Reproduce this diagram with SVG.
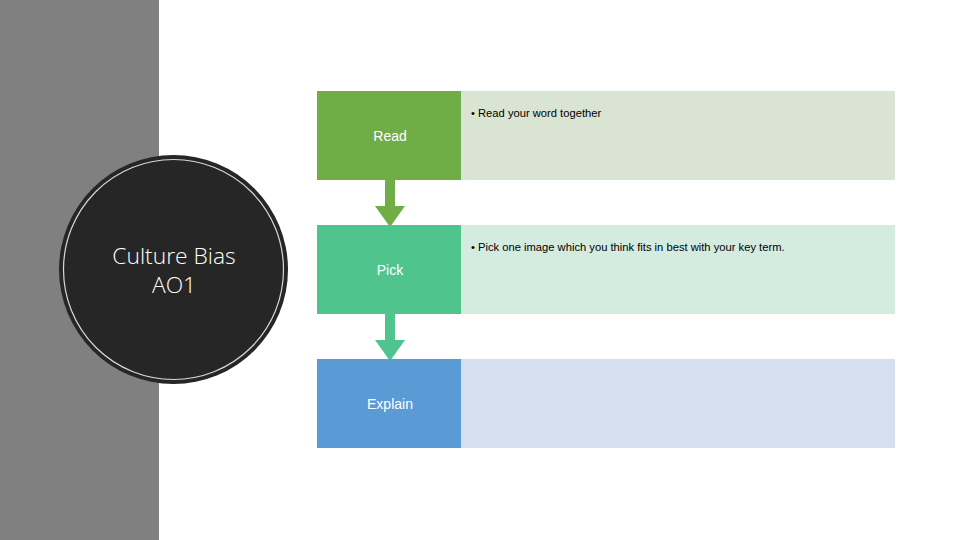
<svg xmlns="http://www.w3.org/2000/svg" width="960" height="540" viewBox="0 0 960 540">
<style>
.lbl{font-family:"Liberation Sans",Arial,sans-serif;font-size:14px;fill:#ffffff;text-anchor:middle}
.bul{font-family:"Liberation Sans",Arial,sans-serif;font-size:11.2px;fill:#000000}
.ttl{font-family:"Open Sans","Liberation Sans",sans-serif;font-weight:300;font-size:22.8px;fill:#ffffff;text-anchor:middle}
</style>
<rect x="0" y="0" width="960" height="540" fill="#ffffff"/>
<rect x="0" y="0" width="159" height="540" fill="#808080"/>
<g id="title">
<circle cx="173.5" cy="269.5" r="114.5" fill="#262626"/>
<circle cx="173.5" cy="269.5" r="110" fill="none" stroke="#d9d9d9" stroke-width="1.2"/>
<text class="ttl" x="174" y="264">Culture Bias</text>
<text class="ttl" x="174" y="293">AO1</text>
</g>
<g id="connectors">
<path d="M385 180 H395 V206 H405 L390 227 L375 206 H385 Z" fill="#70ad47"/>
<path d="M385 314 H395 V340 H405 L390 361 L375 340 H385 Z" fill="#4fc58d"/>
</g>
<g id="read">
<rect x="461" y="91" width="434" height="89" fill="#dae4d3"/>
<rect x="317" y="91" width="144" height="89" fill="#70ad47"/>
<text class="lbl" x="390" y="141">Read</text>
<text class="bul" x="471" y="117">• Read your word together</text>
</g>
<g id="pick">
<rect x="461" y="225" width="434" height="89" fill="#d4ebe0"/>
<rect x="317" y="225" width="144" height="89" fill="#4fc58d"/>
<text class="lbl" x="390" y="275">Pick</text>
<text class="bul" x="471" y="251">• Pick one image which you think fits in best with your key term.</text>
</g>
<g id="explain">
<rect x="461" y="359" width="434" height="89" fill="#d6dff0"/>
<rect x="317" y="359" width="144" height="89" fill="#5b9bd5"/>
<text class="lbl" x="390" y="409">Explain</text>
</g>
</svg>
